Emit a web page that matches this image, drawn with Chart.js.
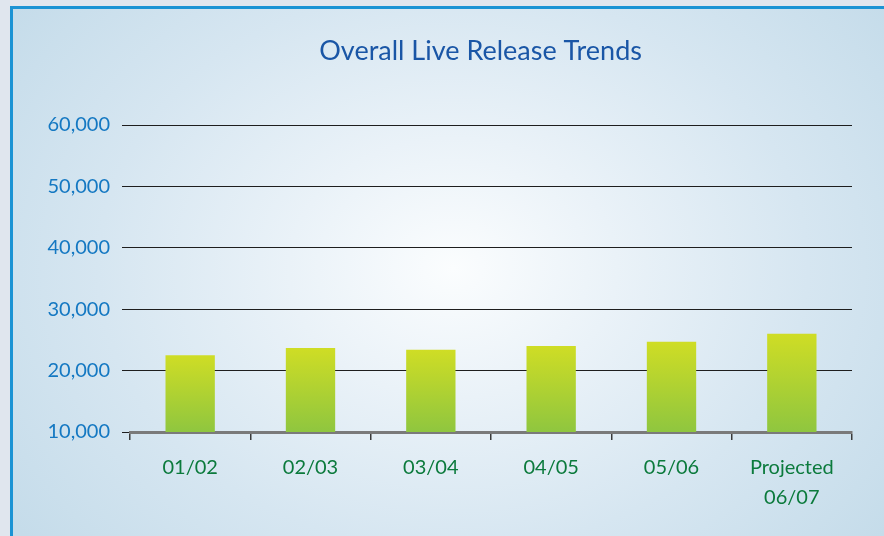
<!DOCTYPE html>
<html>
<head>
<meta charset="utf-8">
<script src="https://cdn.jsdelivr.net/npm/chart.js@4"></script>
<style>
  html, body { margin: 0; padding: 0; background: #e0e6ee; width: 884px; height: 536px; overflow: hidden; }
  #frame {
    position: absolute; left: 10px; top: 6px; width: 880px; height: 540px;
    border-top: 3px solid #1b93d4; border-left: 3px solid #1b93d4;
    background: radial-gradient(ellipse 62% 80% at 50% 48%, #fbfdfe 0%, #eaf2f8 30%, #d6e6f1 65%, #c5dcea 100%);
  }
  #c { position: absolute; left: 0; top: 0; }
</style>
</head>
<body>
<div id="frame"></div>
<canvas id="c" width="884" height="536"></canvas>
<script>
const categories = ['01/02', '02/03', '03/04', '04/05', '05/06', ['Projected', '06/07']];
const releases = [22500, 23700, 23400, 24000, 24700, 26000];
const yTicks = [10000, 20000, 30000, 40000, 50000, 60000];
const chartTitle = 'Overall Live Release Trends';

const FONT = 'Lato, "Open Sans", sans-serif';

function barGradient(context) {
  const chart = context.chart;
  const area = chart.chartArea;
  if (!area || context.type !== 'data') return '#b0d232';
  const ys = chart.scales.y;
  const top = ys.getPixelForValue(context.raw);
  const bottom = ys.getPixelForValue(ys.min);
  const g = chart.ctx.createLinearGradient(0, top, 0, bottom);
  g.addColorStop(0, '#cfdd25');
  g.addColorStop(1, '#8fc63f');
  return g;
}

new Chart(document.getElementById('c'), {
  type: 'bar',
  data: {
    labels: categories,
    datasets: [{
      data: releases,
      backgroundColor: barGradient,
      borderWidth: 0,
      barPercentage: 0.41,
      categoryPercentage: 1.0
    }]
  },
  options: {
    responsive: false,
    animation: false,
    layout: { padding: { left: 0, right: 32, top: 0, bottom: 0 } },
    plugins: {
      legend: { display: false },
      tooltip: { enabled: false },
      title: {
        display: true,
        text: chartTitle + '\u00A0\u00A0\u00A0',
        fullSize: false,
        color: '#1a56a6',
        font: { family: FONT, size: 27, weight: 'normal', lineHeight: 1.2 },
        padding: { top: 35, bottom: 57.6 }
      }
    },
    scales: {
      x: {
        grid: { display: true, drawOnChartArea: false, drawTicks: true, tickLength: 8, color: '#3a3a3a', lineWidth: 1.5, offset: true },
        border: { display: true, color: '#7a7a7a', width: 3 },
        ticks: { color: '#0b7a3c', font: { family: FONT, size: 20, lineHeight: 1.5 }, padding: 13, maxRotation: 0, autoSkip: false },
        afterFit: (s) => { s.height = 104; }
      },
      y: {
        min: 10000,
        max: 60000,
        afterBuildTicks: (s) => { s.ticks = yTicks.map(v => ({ value: v })); },
        grid: { color: '#1e1e1e', lineWidth: 1, tickLength: 8, drawTicks: true },
        border: { display: false },
        ticks: {
          color: '#1478c2',
          font: { family: FONT, size: 20 },
          padding: 12,
          callback: (v) => Number(v).toLocaleString('en-US')
        },
        afterFit: (s) => { s.width = 130; }
      }
    }
  }
});
</script>
</body>
</html>
